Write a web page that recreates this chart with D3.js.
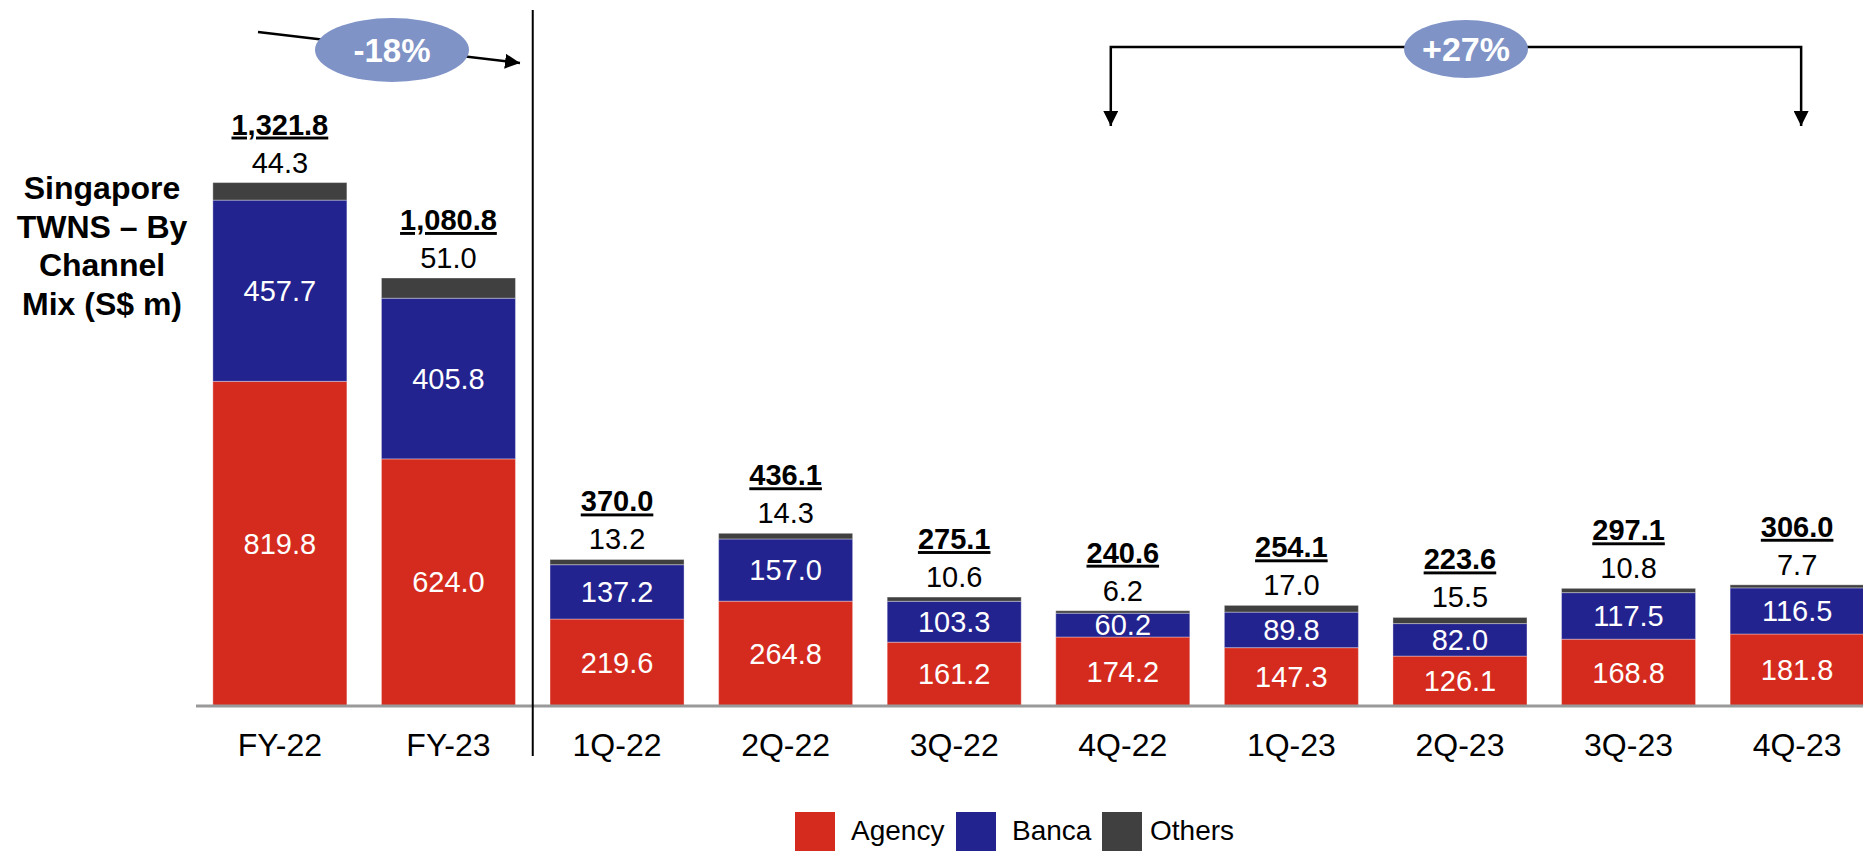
<!DOCTYPE html>
<html lang="en">
<head>
    <meta charset="UTF-8">
    <title>Singapore TWNS – By Channel Mix</title>
    <style>
        body { margin: 0; background: #fff; }
        svg { display: block; font-family: "Liberation Sans", Arial, sans-serif; }
    </style>
</head>
<body>
    <div id="chart"></div>

    <script src="https://d3js.org/d3.v7.min.js"></script>
    <script>
        const categories = ["FY-22", "FY-23", "1Q-22", "2Q-22", "3Q-22", "4Q-22", "1Q-23", "2Q-23", "3Q-23", "4Q-23"];
        const agency = [819.8, 624.0, 219.6, 264.8, 161.2, 174.2, 147.3, 126.1, 168.8, 181.8];
        const banca = [457.7, 405.8, 137.2, 157.0, 103.3, 60.2, 89.8, 82.0, 117.5, 116.5];
        const others = [44.3, 51.0, 13.2, 14.3, 10.6, 6.2, 17.0, 15.5, 10.8, 7.7];
        const totals = [1321.8, 1080.8, 370.0, 436.1, 275.1, 240.6, 254.1, 223.6, 297.1, 306.0];
        const seriesNames = ["Agency", "Banca", "Others"];

        const width = 1863;
        const height = 851;
        const baseY = 706;

        const colors = { Agency: "#d52b1e", Banca: "#232390", Others: "#404040" };

        const svg = d3.select("#chart").append("svg")
            .attr("width", width)
            .attr("height", height);

        const x = d3.scaleBand()
            .domain(categories)
            .range([196, 196 + 168.5 * categories.length])
            .paddingInner(0.205)
            .paddingOuter(0.1);

        const y = d3.scaleLinear()
            .domain([0, 1500])
            .range([baseY, baseY - 594]);

        const rows = categories.map((c, i) => ({
            cat: c, Agency: agency[i], Banca: banca[i], Others: others[i], total: totals[i]
        }));

        const layers = d3.stack().keys(seriesNames)(rows);

        // bars
        svg.selectAll(".layer")
            .data(layers)
            .enter()
            .append("g")
            .attr("class", "layer")
            .attr("fill", d => colors[d.key])
            .selectAll("rect")
            .data(d => d)
            .enter()
            .append("rect")
            .attr("x", d => x(d.data.cat))
            .attr("y", d => y(d[1]))
            .attr("width", x.bandwidth())
            .attr("height", d => y(d[0]) - y(d[1]))
            .attr("stroke", "#ffffff")
            .attr("stroke-opacity", 0.35)
            .attr("stroke-width", 1);

        // labels inside agency / banca
        layers.slice(0, 2).forEach(layer => {
            svg.selectAll(".in-" + layer.key)
                .data(layer)
                .enter()
                .append("text")
                .attr("x", d => x(d.data.cat) + x.bandwidth() / 2)
                .attr("y", d => (y(d[0]) + y(d[1])) / 2 + 10)
                .attr("text-anchor", "middle")
                .style("font-size", "29px")
                .style("fill", "#fff")
                .text(d => (d[1] - d[0]).toFixed(1));
        });

        // others labels above the bar
        svg.selectAll(".oth")
            .data(rows)
            .enter()
            .append("text")
            .attr("x", d => x(d.cat) + x.bandwidth() / 2)
            .attr("y", d => y(d.total) - 10)
            .attr("text-anchor", "middle")
            .style("font-size", "29px")
            .style("fill", "#000")
            .text(d => d.Others.toFixed(1));

        // totals, bold and underlined
        svg.selectAll(".tot")
            .data(rows)
            .enter()
            .append("text")
            .attr("x", d => x(d.cat) + x.bandwidth() / 2)
            .attr("y", d => y(d.total) - 48)
            .attr("text-anchor", "middle")
            .style("font-size", "29px")
            .style("font-weight", "bold")
            .style("text-decoration", "underline")
            .style("fill", "#000")
            .text(d => d3.format(",.1f")(d.total));

        // baseline axis
        const axis = svg.append("g")
            .attr("transform", `translate(0, ${baseY})`)
            .call(d3.axisBottom(x).tickSize(0).tickPadding(27));
        axis.select(".domain")
            .attr("d", `M196,0H${width}`)
            .attr("stroke", "#999")
            .attr("stroke-width", 3);
        axis.selectAll("text")
            .style("font-size", "32px")
            .style("font-family", "'Liberation Sans', Arial, sans-serif")
            .style("fill", "#000");

        // separator between yearly and quarterly bars
        const sepX = x("FY-23") + x.bandwidth() + (x.step() - x.bandwidth()) / 2;
        svg.append("line")
            .attr("x1", sepX).attr("x2", sepX)
            .attr("y1", 10).attr("y2", 756)
            .attr("stroke", "#000")
            .attr("stroke-width", 2);

        // y title
        const title = ["Singapore", "TWNS – By", "Channel", "Mix (S$ m)"];
        svg.append("text")
            .attr("text-anchor", "middle")
            .style("font-size", "32px")
            .style("font-weight", "bold")
            .selectAll("tspan")
            .data(title)
            .enter()
            .append("tspan")
            .attr("x", 102)
            .attr("y", (d, i) => 199 + i * 38.5)
            .text(d => d);

        // arrow head
        svg.append("defs").append("marker")
            .attr("id", "head")
            .attr("viewBox", "0 0 10 10")
            .attr("refX", 10).attr("refY", 5)
            .attr("markerWidth", 6).attr("markerHeight", 6)
            .attr("markerUnits", "strokeWidth")
            .attr("orient", "auto")
            .append("path")
            .attr("d", "M0,0L10,5L0,10Z")
            .attr("fill", "#000");

        // -18% annotation
        svg.append("line")
            .attr("x1", 258).attr("y1", 32)
            .attr("x2", 520).attr("y2", 63)
            .attr("stroke", "#000")
            .attr("stroke-width", 2.5)
            .attr("marker-end", "url(#head)");
        svg.append("ellipse")
            .attr("cx", 392).attr("cy", 50)
            .attr("rx", 77).attr("ry", 32)
            .attr("fill", "#7f93c6");
        svg.append("text")
            .attr("x", 392).attr("y", 62)
            .attr("text-anchor", "middle")
            .style("font-size", "33px")
            .style("font-weight", "bold")
            .style("fill", "#fff")
            .text("-18%");

        // +27% annotation
        const bx1 = x("4Q-22") + x.bandwidth() / 2 - 12;
        const bx2 = x("4Q-23") + x.bandwidth() / 2 + 4;
        const bmid = (bx1 + bx2) / 2;
        [[bx1, bx2], [bx2, bx1]].forEach(([from, to]) => {
            svg.append("path")
                .attr("d", `M${bmid},47H${to}V126`)
                .attr("fill", "none")
                .attr("stroke", "#000")
                .attr("stroke-width", 2.5)
                .attr("marker-end", "url(#head)");
        });
        svg.append("ellipse")
            .attr("cx", 1466).attr("cy", 49)
            .attr("rx", 62).attr("ry", 29)
            .attr("fill", "#7f93c6");
        svg.append("text")
            .attr("x", 1466).attr("y", 61)
            .attr("text-anchor", "middle")
            .style("font-size", "34px")
            .style("font-weight", "bold")
            .style("fill", "#fff")
            .text("+27%");

        // legend
        const legendItems = [
            { name: "Agency", sx: 795, tx: 851 },
            { name: "Banca", sx: 956, tx: 1012 },
            { name: "Others", sx: 1102, tx: 1150 }
        ];
        const lg = svg.append("g");
        legendItems.forEach(d => {
            lg.append("rect")
                .attr("x", d.sx).attr("y", 812)
                .attr("width", 40).attr("height", 40)
                .attr("fill", colors[d.name]);
            lg.append("text")
                .attr("x", d.tx).attr("y", 840)
                .style("font-size", "28px")
                .style("fill", "#000")
                .text(d.name);
        });
    </script>
</body>
</html>
